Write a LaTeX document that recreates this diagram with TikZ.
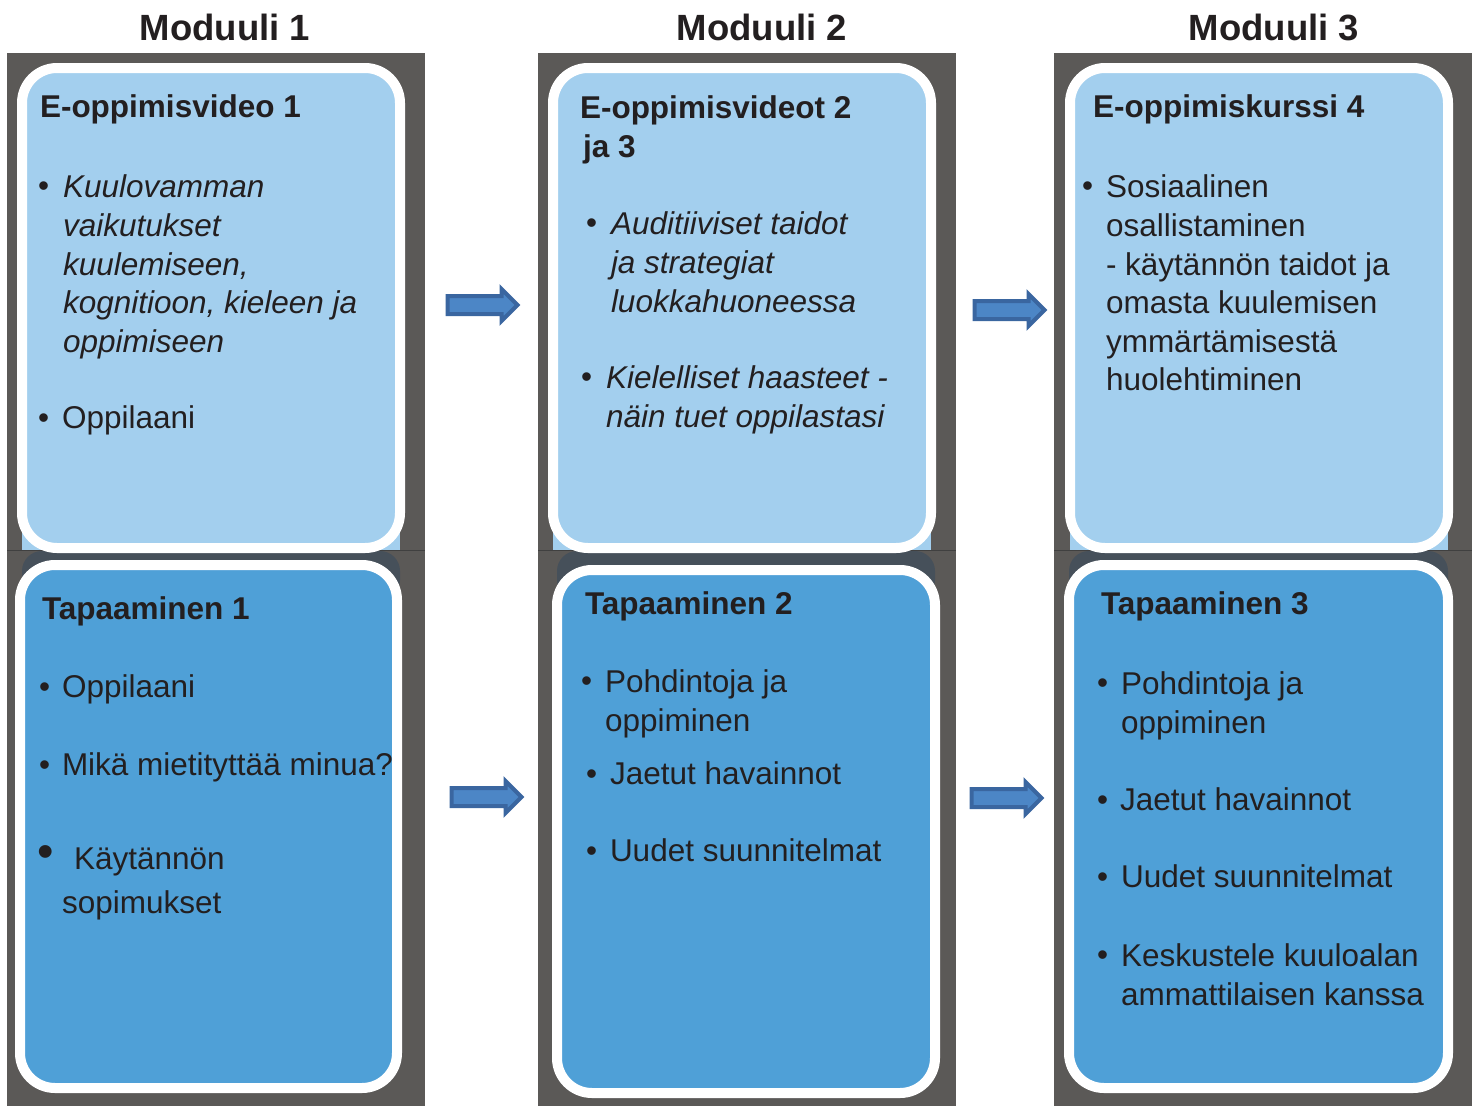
\documentclass[tikz,border=0pt]{standalone}
\usepackage{fontspec}
\setmainfont{Liberation Sans}
\usetikzlibrary{shapes.arrows}
\definecolor{colgray}{HTML}{5B5957}
\definecolor{lightbl}{HTML}{A3CFEE}
\definecolor{midbl}{HTML}{4FA0D7}
\definecolor{slate}{HTML}{46505A}
\definecolor{ink}{HTML}{231F20}
\definecolor{arrline}{HTML}{3A66A0}
\definecolor{arrfill}{HTML}{4C86C6}

\begin{document}
\begin{tikzpicture}[x=1pt,y=-1pt,
    every node/.style={text=ink,inner sep=0pt,outer sep=0pt},
    txt/.style={anchor=north west,align=left,font=\fontsize{31.5}{38.6}\selectfont,execute at begin node=\strut},
    head/.style={txt,font=\fontsize{31.5}{38.6}\selectfont\bfseries},
    itl/.style={txt,font=\fontsize{31.5}{38.6}\selectfont\itshape},
    modtitle/.style={font=\fontsize{36.5}{40}\selectfont\bfseries},
    card/.style={draw=white,line width=10pt,rounded corners=35pt},
    flow/.style={single arrow,draw=arrline,fill=arrfill,line width=4pt,
        minimum height=70pt,inner xsep=0pt,inner ysep=7pt,single arrow head extend=7pt}]
  \useasboundingbox (0,0) rectangle (1476,1106);
  % columns
  \fill[colgray] (7,53) rectangle (425,1106);
  \fill[colgray] (538,53) rectangle (956,1106);
  \fill[colgray] (1054,53) rectangle (1472,1106);
  \draw[black!75,line width=1pt] (7,550)--(425,550) (538,550)--(956,550) (1054,550)--(1472,550);
  % strips behind the cards
  \fill[lightbl] (22,480) rectangle (400,550);
  \fill[lightbl] (553,480) rectangle (931,550);
  \fill[lightbl] (1070,480) rectangle (1448,550);
  \fill[slate,rounded corners=20pt] (22,551)--(22,600)--(400,600)--(400,551)--cycle;
  \fill[slate,rounded corners=20pt] (557,551)--(557,600)--(935,600)--(935,551)--cycle;
  \fill[slate,rounded corners=20pt] (1069,551)--(1069,600)--(1448,600)--(1448,551)--cycle;
  % cards
  \draw[card,fill=lightbl] (22,68) rectangle (400,548);
  \draw[card,fill=midbl] (20,565) rectangle (397,1088);
  \draw[card,fill=lightbl] (553,68) rectangle (931,548);
  \draw[card,fill=midbl] (557,570) rectangle (935,1093);
  \draw[card,fill=lightbl] (1070,68) rectangle (1448,548);
  \draw[card,fill=midbl] (1069,565) rectangle (1448,1088);
  % titles
  \node[modtitle] (mod1) at (225,27) {Moduuli 1};
  \node[modtitle] (mod2) at (762,27) {Moduuli 2};
  \node[modtitle] (mod3) at (1274,27) {Moduuli 3};
  % moduuli 1
  \node[head] (video1) at (40,90) {E-oppimisvideo 1};
  \node[txt] (v1b1) at (38,169) {•};
  \node[itl] (v1t1) at (63,175) {Kuulovamman\\vaikutukset\\kuulemiseen,\\kognitioon, kieleen ja\\oppimiseen};
  \node[txt] (v1b2) at (38,401) {•};
  \node[txt] (v1t2) at (62,401) {Oppilaani};
  \node[head] (meet1) at (42,592) {Tapaaminen 1};
  \node[txt] (m1b1) at (39,670) {•};
  \node[txt] (m1t1) at (62,670) {Oppilaani};
  \node[txt] (m1b2) at (39,748) {•};
  \node[txt] (m1t2) at (62,748) {Mikä mietityttää minua?};
  \node[font=\fontsize{47}{50}\selectfont] (m1b3) at (46,857) {•};
  \node[txt] (m1t3) at (62,848) {\hspace*{12pt}Käytännön\\[5.4pt]sopimukset};
  % moduuli 2
  \node[head] (video2) at (580,96) {E-oppimisvideot 2\\\hspace*{3pt}ja 3};
  \node[txt] (v2b1) at (586,206) {•};
  \node[itl] (v2t1) at (611,212) {Auditiiviset taidot\\ja strategiat\\luokkahuoneessa};
  \node[txt] (v2b2) at (581,360) {•};
  \node[itl] (v2t2) at (606,366) {Kielelliset haasteet -\\näin tuet oppilastasi};
  \node[head] (meet2) at (585,587) {Tapaaminen 2};
  \node[txt] (m2b1) at (581,664) {•};
  \node[txt] (m2t1) at (605,670) {Pohdintoja ja\\oppiminen};
  \node[txt] (m2b2) at (586,757) {•};
  \node[txt] (m2t2) at (610,757) {Jaetut havainnot};
  \node[txt] (m2b3) at (586,834) {•};
  \node[txt] (m2t3) at (610,834) {Uudet suunnitelmat};
  % moduuli 3
  \node[head] (course4) at (1093,90) {E-oppimiskurssi 4};
  \node[txt] (k4b1) at (1082,169) {•};
  \node[txt] (k4t1) at (1106,175) {Sosiaalinen\\osallistaminen\\- käytännön taidot ja\\omasta kuulemisen\\ymmärtämisestä\\huolehtiminen};
  \node[head] (meet3) at (1101,587) {Tapaaminen 3};
  \node[txt] (m3b1) at (1097,666) {•};
  \node[txt] (m3t1) at (1121,672) {Pohdintoja ja\\oppiminen};
  \node[txt] (m3b2) at (1097,783) {•};
  \node[txt] (m3t2) at (1120,783) {Jaetut havainnot};
  \node[txt] (m3b3) at (1097,860) {•};
  \node[txt] (m3t3) at (1121,860) {Uudet suunnitelmat};
  \node[txt] (m3b4) at (1097,938) {•};
  \node[txt] (m3t4) at (1121,944) {Keskustele kuuloalan\\ammattilaisen kanssa};
  % arrows
  \node[flow] (arrtop1) at (478,305) {};
  \node[flow] (arrtop2) at (1005,310) {};
  \node[flow] (arrbot1) at (482,797) {};
  \node[flow] (arrbot2) at (1002,798) {};
\end{tikzpicture}
\end{document}
